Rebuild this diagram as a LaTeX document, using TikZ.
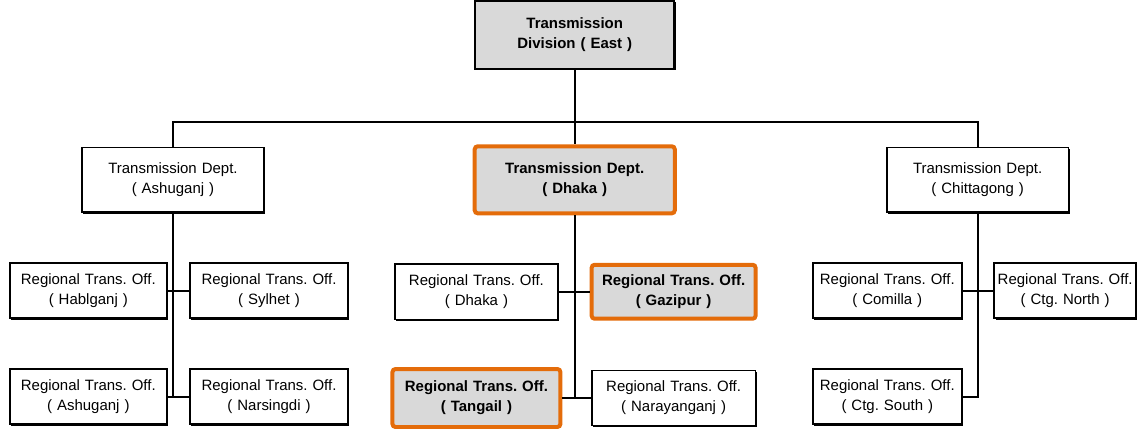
\documentclass[tikz,border=0pt]{standalone}
\usepackage{fontspec}
\setmainfont{Liberation Sans}
\usetikzlibrary{shadows}
\definecolor{hiorange}{RGB}{228,108,10}
\definecolor{boxgray}{RGB}{217,217,217}
\frenchspacing

\begin{document}
\begin{tikzpicture}[
    office/.style={draw, rectangle, black, fill=white, line width=.8pt, text centered, inner sep=0pt,
      minimum height=.97cm, font=\fontsize{7.5}{10}\selectfont,
      drop shadow={shadow xshift=.7pt, shadow yshift=-.7pt, fill=black, opacity=1}},
    chosen/.style={draw=hiorange, rectangle, fill=boxgray, line width=2pt, rounded corners=1.5pt,
      text centered, inner sep=0pt, font=\bfseries\fontsize{7.5}{10}\selectfont},
    link/.style={black, line width=1pt}]
            % head office and the three departments
            \node[office, fill=boxgray, text width=3.5cm, minimum height=1.2cm, font=\bfseries\fontsize{7.5}{10}\selectfont] (Division) {Transmission\\Division ( East )};
            \node[chosen, text width=3.52cm, minimum height=1.18cm, below of=Division, yshift=-1.55cm] (DhakaDept) {Transmission Dept.\\( Dhaka )};
            \node[office, text width=3.2cm, minimum height=1.14cm, left of=DhakaDept, xshift=-6.07cm] (AshugDept) {Transmission Dept.\\( Ashuganj )};
            \node[office, text width=3.2cm, minimum height=1.14cm, right of=DhakaDept, xshift=6.09cm] (CtgDept) {Transmission Dept.\\( Chittagong )};
            \coordinate[below of=Division, yshift=-.54cm] (Bus);

            % regional offices under Ashuganj
            \node[office, text width=2.76cm, below of=AshugDept, xshift=-1.49cm, yshift=-.95cm] (Habiganj) {Regional Trans. Off.\\( Hablganj )};
            \node[office, text width=2.78cm, below of=AshugDept, xshift=1.69cm, yshift=-.95cm] (Sylhet) {Regional Trans. Off.\\( Sylhet )};
            \node[office, text width=2.76cm, below of=Habiganj, yshift=-.865cm] (Ashuganj) {Regional Trans. Off.\\( Ashuganj )};
            \node[office, text width=2.78cm, below of=Sylhet, yshift=-.865cm] (Narsingdi) {Regional Trans. Off.\\( Narsingdi )};

            % regional offices under Dhaka
            \node[office, text width=2.87cm, below of=DhakaDept, xshift=-1.73cm, yshift=-.97cm] (DhakaOff) {Regional Trans. Off.\\( Dhaka )};
            \node[chosen, text width=2.885cm, minimum height=.95cm, below of=DhakaDept, xshift=1.74cm, yshift=-.97cm] (Gazipur) {Regional Trans. Off.\\( Gazipur )};
            \node[chosen, text width=2.955cm, minimum height=1.02cm, below of=DhakaOff, yshift=-.87cm] (Tangail) {Regional Trans. Off.\\( Tangail )};
            \node[office, text width=2.88cm, below of=Gazipur, yshift=-.87cm] (Narayanganj) {Regional Trans. Off.\\( Narayanganj )};

            % regional offices under Chittagong
            \node[office, text width=2.62cm, below of=CtgDept, xshift=-1.59cm, yshift=-.95cm] (Comilla) {Regional Trans. Off.\\( Comilla )};
            \node[office, text width=2.5cm, below of=CtgDept, xshift=1.54cm, yshift=-.95cm] (CtgNorth) {Regional Trans. Off.\\( Ctg. North )};
            \node[office, text width=2.62cm, below of=Comilla, yshift=-.865cm] (CtgSouth) {Regional Trans. Off.\\( Ctg. South )};

            % tree lines
            \draw[link] (Division.south) -- (DhakaDept.north);
            \draw[link] (AshugDept.north) |- (Bus) -| (CtgDept.north);
            \draw[link] (AshugDept.south) |- (Narsingdi.west);
            \draw[link] (Habiganj.east) -- (Sylhet.west);
            \draw[link] (Ashuganj.east) -- (Narsingdi.west);
            \draw[link] (DhakaDept.south) |- (Narayanganj.west);
            \draw[link] (DhakaOff.east) -- (Gazipur.west);
            \draw[link] (Tangail.east) -- (Narayanganj.west);
            \draw[link] (CtgDept.south) |- (CtgSouth.east);
            \draw[link] (Comilla.east) -- (CtgNorth.west);

            \path[use as bounding box] (Division.center) ++(-10.114cm,.607cm) rectangle ++(20cm,-7.476cm);
            \end{tikzpicture}
\end{document}
